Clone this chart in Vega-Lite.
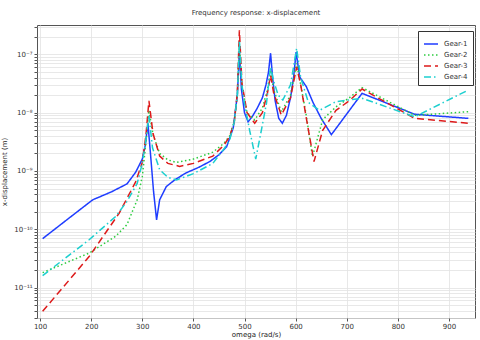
{
  "$schema": "https://vega.github.io/schema/vega-lite/v6.json",
  "width": 438,
  "height": 293,
  "autosize": {"type": "none"},
  "padding": {"left": 37, "top": 25, "right": 5, "bottom": 22},
  "background": "white",
  "title": {"text": "Frequency response: x-displacement", "fontSize": 7, "font": "DejaVu Sans", "fontWeight": "normal", "color": "#333", "offset": 9, "anchor": "middle"},
  "config": {
    "font": "DejaVu Sans",
    "view": {"stroke": "#555", "strokeWidth": 1},
    "axis": {"labelFontSize": 7, "titleFontSize": 7, "titleFontWeight": "normal", "labelColor": "#333", "titleColor": "#222", "gridColor": "#e2e2e2", "gridWidth": 0.8, "domain": false, "tickColor": "#555", "tickSize": 3}
  },
  "data": {"values": [
    {"gear":"Gear-1","omega":105,"v":6.9e-11},
    {"gear":"Gear-1","omega":150,"v":1.4e-10},
    {"gear":"Gear-1","omega":203,"v":3.2e-10},
    {"gear":"Gear-1","omega":240,"v":4.4e-10},
    {"gear":"Gear-1","omega":270,"v":6e-10},
    {"gear":"Gear-1","omega":287,"v":9.5e-10},
    {"gear":"Gear-1","omega":300,"v":1.6e-9},
    {"gear":"Gear-1","omega":306,"v":2.8e-9},
    {"gear":"Gear-1","omega":311,"v":6.6e-9},
    {"gear":"Gear-1","omega":316,"v":2e-9},
    {"gear":"Gear-1","omega":322,"v":4.5e-10},
    {"gear":"Gear-1","omega":328,"v":1.45e-10},
    {"gear":"Gear-1","omega":334,"v":3.2e-10},
    {"gear":"Gear-1","omega":347,"v":5.4e-10},
    {"gear":"Gear-1","omega":365,"v":7.2e-10},
    {"gear":"Gear-1","omega":386,"v":9.3e-10},
    {"gear":"Gear-1","omega":410,"v":1.15e-9},
    {"gear":"Gear-1","omega":432,"v":1.45e-9},
    {"gear":"Gear-1","omega":450,"v":1.9e-9},
    {"gear":"Gear-1","omega":465,"v":2.6e-9},
    {"gear":"Gear-1","omega":478,"v":5.5e-9},
    {"gear":"Gear-1","omega":486,"v":2e-8},
    {"gear":"Gear-1","omega":490,"v":1.1e-7},
    {"gear":"Gear-1","omega":494,"v":2.5e-8},
    {"gear":"Gear-1","omega":500,"v":1e-8},
    {"gear":"Gear-1","omega":507,"v":7e-9},
    {"gear":"Gear-1","omega":515,"v":8.5e-9},
    {"gear":"Gear-1","omega":525,"v":1.2e-8},
    {"gear":"Gear-1","omega":535,"v":1.8e-8},
    {"gear":"Gear-1","omega":542,"v":3e-8},
    {"gear":"Gear-1","omega":547,"v":5e-8},
    {"gear":"Gear-1","omega":551,"v":1.05e-7},
    {"gear":"Gear-1","omega":555,"v":4e-8},
    {"gear":"Gear-1","omega":560,"v":1.6e-8},
    {"gear":"Gear-1","omega":567,"v":8e-9},
    {"gear":"Gear-1","omega":574,"v":6.6e-9},
    {"gear":"Gear-1","omega":582,"v":9e-9},
    {"gear":"Gear-1","omega":590,"v":1.8e-8},
    {"gear":"Gear-1","omega":596,"v":4e-8},
    {"gear":"Gear-1","omega":601,"v":1.1e-7},
    {"gear":"Gear-1","omega":608,"v":4.1e-8},
    {"gear":"Gear-1","omega":621,"v":2.8e-8},
    {"gear":"Gear-1","omega":634,"v":1.5e-8},
    {"gear":"Gear-1","omega":650,"v":8e-9},
    {"gear":"Gear-1","omega":670,"v":4.2e-9},
    {"gear":"Gear-1","omega":730,"v":2.15e-8},
    {"gear":"Gear-1","omega":833,"v":9.4e-9},
    {"gear":"Gear-1","omega":938,"v":8e-9},

    {"gear":"Gear-2","omega":105,"v":1.8e-11},
    {"gear":"Gear-2","omega":196,"v":3.9e-11},
    {"gear":"Gear-2","omega":248,"v":7.6e-11},
    {"gear":"Gear-2","omega":270,"v":1.2e-10},
    {"gear":"Gear-2","omega":290,"v":3.2e-10},
    {"gear":"Gear-2","omega":300,"v":8e-10},
    {"gear":"Gear-2","omega":307,"v":3e-9},
    {"gear":"Gear-2","omega":313,"v":1.1e-8},
    {"gear":"Gear-2","omega":321,"v":4.2e-9},
    {"gear":"Gear-2","omega":334,"v":2e-9},
    {"gear":"Gear-2","omega":350,"v":1.55e-9},
    {"gear":"Gear-2","omega":367,"v":1.4e-9},
    {"gear":"Gear-2","omega":400,"v":1.6e-9},
    {"gear":"Gear-2","omega":438,"v":2.1e-9},
    {"gear":"Gear-2","omega":460,"v":3e-9},
    {"gear":"Gear-2","omega":471,"v":4e-9},
    {"gear":"Gear-2","omega":480,"v":7e-9},
    {"gear":"Gear-2","omega":486,"v":2e-8},
    {"gear":"Gear-2","omega":490,"v":1.5e-7},
    {"gear":"Gear-2","omega":495,"v":2.8e-8},
    {"gear":"Gear-2","omega":505,"v":1e-8},
    {"gear":"Gear-2","omega":520,"v":7.5e-9},
    {"gear":"Gear-2","omega":535,"v":1.2e-8},
    {"gear":"Gear-2","omega":545,"v":2.5e-8},
    {"gear":"Gear-2","omega":551,"v":5.4e-8},
    {"gear":"Gear-2","omega":557,"v":2.5e-8},
    {"gear":"Gear-2","omega":572,"v":1.04e-8},
    {"gear":"Gear-2","omega":590,"v":2e-8},
    {"gear":"Gear-2","omega":602,"v":7e-8},
    {"gear":"Gear-2","omega":610,"v":3e-8},
    {"gear":"Gear-2","omega":620,"v":1e-8},
    {"gear":"Gear-2","omega":633,"v":1.77e-9},
    {"gear":"Gear-2","omega":653,"v":7.6e-9},
    {"gear":"Gear-2","omega":679,"v":1.26e-8},
    {"gear":"Gear-2","omega":705,"v":1.8e-8},
    {"gear":"Gear-2","omega":730,"v":2.7e-8},
    {"gear":"Gear-2","omega":833,"v":9e-9},
    {"gear":"Gear-2","omega":938,"v":1.04e-8},

    {"gear":"Gear-3","omega":105,"v":3.9e-12},
    {"gear":"Gear-3","omega":196,"v":3.4e-11},
    {"gear":"Gear-3","omega":255,"v":1.9e-10},
    {"gear":"Gear-3","omega":287,"v":6.5e-10},
    {"gear":"Gear-3","omega":300,"v":1.4e-9},
    {"gear":"Gear-3","omega":307,"v":4e-9},
    {"gear":"Gear-3","omega":313,"v":1.6e-8},
    {"gear":"Gear-3","omega":321,"v":4.4e-9},
    {"gear":"Gear-3","omega":334,"v":1.8e-9},
    {"gear":"Gear-3","omega":350,"v":1.35e-9},
    {"gear":"Gear-3","omega":373,"v":1.2e-9},
    {"gear":"Gear-3","omega":400,"v":1.35e-9},
    {"gear":"Gear-3","omega":438,"v":1.8e-9},
    {"gear":"Gear-3","omega":460,"v":2.8e-9},
    {"gear":"Gear-3","omega":471,"v":3.9e-9},
    {"gear":"Gear-3","omega":480,"v":7e-9},
    {"gear":"Gear-3","omega":486,"v":2.2e-8},
    {"gear":"Gear-3","omega":490,"v":2.6e-7},
    {"gear":"Gear-3","omega":495,"v":3.2e-8},
    {"gear":"Gear-3","omega":505,"v":1e-8},
    {"gear":"Gear-3","omega":520,"v":6.6e-9},
    {"gear":"Gear-3","omega":535,"v":1e-8},
    {"gear":"Gear-3","omega":545,"v":2.2e-8},
    {"gear":"Gear-3","omega":551,"v":4.4e-8},
    {"gear":"Gear-3","omega":557,"v":2.2e-8},
    {"gear":"Gear-3","omega":572,"v":9.1e-9},
    {"gear":"Gear-3","omega":590,"v":1.8e-8},
    {"gear":"Gear-3","omega":602,"v":6.1e-8},
    {"gear":"Gear-3","omega":610,"v":3e-8},
    {"gear":"Gear-3","omega":620,"v":9e-9},
    {"gear":"Gear-3","omega":636,"v":1.45e-9},
    {"gear":"Gear-3","omega":653,"v":5e-9},
    {"gear":"Gear-3","omega":679,"v":1.1e-8},
    {"gear":"Gear-3","omega":705,"v":1.6e-8},
    {"gear":"Gear-3","omega":730,"v":2.55e-8},
    {"gear":"Gear-3","omega":833,"v":8e-9},
    {"gear":"Gear-3","omega":938,"v":6.6e-9},

    {"gear":"Gear-4","omega":105,"v":1.6e-11},
    {"gear":"Gear-4","omega":196,"v":6.6e-11},
    {"gear":"Gear-4","omega":248,"v":1.66e-10},
    {"gear":"Gear-4","omega":270,"v":3e-10},
    {"gear":"Gear-4","omega":290,"v":6.1e-10},
    {"gear":"Gear-4","omega":300,"v":1.35e-9},
    {"gear":"Gear-4","omega":307,"v":3.5e-9},
    {"gear":"Gear-4","omega":313,"v":9e-9},
    {"gear":"Gear-4","omega":320,"v":2.5e-9},
    {"gear":"Gear-4","omega":334,"v":1.05e-9},
    {"gear":"Gear-4","omega":350,"v":7.8e-10},
    {"gear":"Gear-4","omega":367,"v":7e-10},
    {"gear":"Gear-4","omega":400,"v":9e-10},
    {"gear":"Gear-4","omega":438,"v":1.35e-9},
    {"gear":"Gear-4","omega":460,"v":2.4e-9},
    {"gear":"Gear-4","omega":471,"v":3.4e-9},
    {"gear":"Gear-4","omega":480,"v":7e-9},
    {"gear":"Gear-4","omega":486,"v":2e-8},
    {"gear":"Gear-4","omega":490,"v":1.75e-7},
    {"gear":"Gear-4","omega":495,"v":3e-8},
    {"gear":"Gear-4","omega":500,"v":1.45e-8},
    {"gear":"Gear-4","omega":510,"v":5e-9},
    {"gear":"Gear-4","omega":522,"v":1.6e-9},
    {"gear":"Gear-4","omega":533,"v":5e-9},
    {"gear":"Gear-4","omega":543,"v":1.45e-8},
    {"gear":"Gear-4","omega":551,"v":6.1e-8},
    {"gear":"Gear-4","omega":557,"v":3.5e-8},
    {"gear":"Gear-4","omega":566,"v":2e-8},
    {"gear":"Gear-4","omega":575,"v":1.65e-8},
    {"gear":"Gear-4","omega":590,"v":3e-8},
    {"gear":"Gear-4","omega":602,"v":1.27e-7},
    {"gear":"Gear-4","omega":610,"v":4e-8},
    {"gear":"Gear-4","omega":625,"v":1.5e-8},
    {"gear":"Gear-4","omega":647,"v":1.1e-8},
    {"gear":"Gear-4","omega":679,"v":1.55e-8},
    {"gear":"Gear-4","omega":730,"v":1.77e-8},
    {"gear":"Gear-4","omega":833,"v":8.5e-9},
    {"gear":"Gear-4","omega":938,"v":2.45e-8}
  ]},
  "mark": {"type": "line", "strokeWidth": 1.5, "clip": true},
  "encoding": {
    "x": {"field": "omega", "type": "quantitative",
      "scale": {"domain": [94, 951], "nice": false, "zero": false},
      "axis": {"title": "omega (rad/s)", "values": [100,200,300,400,500,600,700,800,900], "titlePadding": 1, "labelPadding": 1}},
    "y": {"field": "v", "type": "quantitative",
      "scale": {"type": "log", "domain": [3e-12, 3.2e-7], "nice": false},
      "axis": {"title": "x-displacement (m)", "titleX": -30,
        "values": [3e-12,4e-12,5e-12,6e-12,7e-12,8e-12,9e-12,1e-11,2e-11,3e-11,4e-11,5e-11,6e-11,7e-11,8e-11,9e-11,1e-10,2e-10,3e-10,4e-10,5e-10,6e-10,7e-10,8e-10,9e-10,1e-9,2e-9,3e-9,4e-9,5e-9,6e-9,7e-9,8e-9,9e-9,1e-8,2e-8,3e-8,4e-8,5e-8,6e-8,7e-8,8e-8,9e-8,1e-7,2e-7,3e-7],
        "labelExpr": "datum.value == 1e-7 ? '10⁻⁷' : datum.value == 1e-8 ? '10⁻⁸' : datum.value == 1e-9 ? '10⁻⁹' : datum.value == 1e-10 ? '10⁻¹⁰' : datum.value == 1e-11 ? '10⁻¹¹' : ''"}},
    "color": {"field": "gear", "type": "nominal",
      "scale": {"domain": ["Gear-1","Gear-2","Gear-3","Gear-4"], "range": ["#1f3dff","#2ecc40","#dd1a1a","#1ccfcf"]},
      "legend": {"title": null, "orient": "none", "legendX": 381, "legendY": 6, "symbolType": "stroke", "symbolSize": 196, "symbolStrokeWidth": 1.5, "labelFontSize": 7, "labelColor": "#333", "strokeColor": "#333", "fillColor": "white", "padding": 5, "rowPadding": 0, "labelOffset": 5}},
    "strokeDash": {"field": "gear", "type": "nominal",
      "scale": {"domain": ["Gear-1","Gear-2","Gear-3","Gear-4"], "range": [[1,0],[1.5,2.5],[7,4],[7,3,1.5,3]]},
      "legend": null}
  }
}
